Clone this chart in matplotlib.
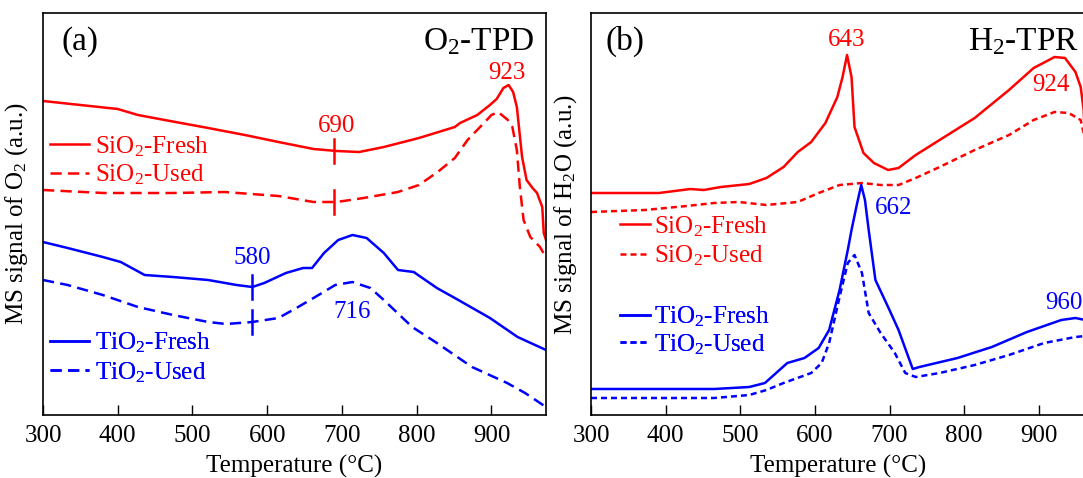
import numpy as np
import matplotlib
matplotlib.use("Agg")
import matplotlib.pyplot as plt

plt.rcParams['font.family'] = ['Liberation Serif', 'DejaVu Serif']
plt.rcParams['mathtext.default'] = 'regular'

RED = '#ff0000'
BLUE = '#0000ff'

# ---------------- Panel (a): O2-TPD ----------------
a_sio2_fresh_T = [300, 350, 400, 427, 470, 521, 570, 615, 662, 693, 723, 756, 803, 851, 858, 881,
                  898, 907, 916, 923, 929, 934, 941, 947, 955, 961, 968, 970, 973]
a_sio2_fresh_y = [314, 310, 306, 300, 294, 287, 280, 273, 266, 264, 263, 268, 277, 288, 292, 300,
                  310, 316, 327, 330, 323, 308, 258, 235, 227, 222, 208, 182, 175]

a_sio2_used_T = [300, 381, 474, 543, 615, 662, 693, 729, 775, 803, 828, 851, 868, 890, 900, 909,
                 922, 928, 934, 938, 943, 952, 965, 971]
a_sio2_used_y = [225, 222, 222, 223, 219, 213, 213, 217, 223, 230, 243, 257, 275, 292, 300, 303,
                 295, 288, 265, 228, 195, 178, 168, 160]

a_tio2_fresh_T = [300, 333, 380, 404, 436, 474, 521, 559, 580, 596, 625, 648, 660, 676, 695, 714,
                  733, 756, 775, 796, 827, 851, 898, 935, 973]
a_tio2_fresh_y = [173, 167, 158, 153, 140, 138, 135, 130, 128, 132, 142, 147, 147, 162, 175, 180,
                  177, 162, 145, 143, 127, 117, 97, 78, 65]

a_tio2_used_T = [300, 333, 380, 427, 474, 521, 545, 580, 615, 639, 662, 691, 714, 738, 756, 794,
                 827, 874, 921, 945, 973]
a_tio2_used_y = [135, 130, 120, 108, 100, 93, 91, 93, 97, 107, 117, 130, 133, 127, 115, 88,
                 72, 48, 32, 22, 8]

# ---------------- Panel (b): H2-TPR ----------------
b_sio2_fresh_T = [300, 391, 433, 451, 474, 512, 535, 558, 577, 595, 614, 630, 637, 643, 649, 653,
                  665, 679, 698, 712, 735, 767, 814, 860, 893, 921, 935, 949, 956, 960, 962]
b_sio2_fresh_y = [222, 222, 226, 225, 228, 231, 237, 248, 263, 273, 292, 318, 338, 360, 338, 288,
                  262, 252, 245, 247, 260, 275, 297, 325, 347, 358, 357, 343, 328, 305, 265]

b_sio2_used_T = [300, 372, 428, 465, 498, 535, 577, 605, 633, 663, 688, 712, 735, 767, 814, 860,
                 893, 921, 940, 956, 960, 962]
b_sio2_used_y = [203, 205, 209, 212, 213, 210, 213, 222, 230, 232, 230, 230, 237, 248, 265, 280,
                 295, 303, 302, 295, 282, 262]

b_tio2_fresh_T = [300, 465, 512, 533, 542, 563, 586, 605, 619, 633, 644, 649, 656, 662, 667, 672,
                  681, 698, 712, 731, 740, 791, 837, 884, 930, 949, 962]
b_tio2_fresh_y = [26, 26, 28, 32, 38, 52, 57, 67, 85, 125, 165, 185, 210, 230, 215, 185,
                  135, 108, 85, 46, 48, 57, 68, 83, 95, 97, 95]

b_tio2_used_T = [300, 465, 512, 535, 558, 595, 609, 619, 633, 644, 653, 663, 672, 688, 707, 721,
                 735, 767, 814, 860, 907, 949, 962]
b_tio2_used_y = [17, 17, 20, 25, 32, 42, 52, 72, 118, 152, 160, 142, 102, 82, 62, 42,
                 38, 42, 50, 60, 72, 78, 79]

xticks = [300, 400, 500, 600, 700, 800, 900]

FS = 18
TFS = 24
LW = 1.8

fig = plt.figure(figsize=(10.83, 4.78), dpi=100)
W, H = 1083, 478
ax1 = fig.add_axes([43 / W, (H - 415) / H, (546 - 43) / W, (415 - 13) / H])
ax2 = fig.add_axes([591 / W, (H - 415) / H, (1083 - 591) / W + 0.002, (415 - 13) / H])

dash_a = (0, (4.5, 2.5))
dash_b = (0, (2.4, 1.6))

l1, = ax1.plot(a_sio2_fresh_T, a_sio2_fresh_y, color=RED, lw=LW, label=r'SiO$_2$-Fresh')
l2, = ax1.plot(a_sio2_used_T, a_sio2_used_y, color=RED, lw=LW, ls=dash_a, label=r'SiO$_2$-Used')
l3, = ax1.plot(a_tio2_fresh_T, a_tio2_fresh_y, color=BLUE, lw=LW, label=r'TiO$_2$-Fresh')
l4, = ax1.plot(a_tio2_used_T, a_tio2_used_y, color=BLUE, lw=LW, ls=dash_a, label=r'TiO$_2$-Used')

m1, = ax2.plot(b_sio2_fresh_T, b_sio2_fresh_y, color=RED, lw=LW, label=r'SiO$_2$-Fresh')
m2, = ax2.plot(b_sio2_used_T, b_sio2_used_y, color=RED, lw=LW, ls=dash_b, label=r'SiO$_2$-Used')
m3, = ax2.plot(b_tio2_fresh_T, b_tio2_fresh_y, color=BLUE, lw=LW, label=r'TiO$_2$-Fresh')
m4, = ax2.plot(b_tio2_used_T, b_tio2_used_y, color=BLUE, lw=LW, ls=dash_b, label=r'TiO$_2$-Used')

# vertical marker ticks in panel (a)
for T0, (xs, ys), col in [(690, (a_sio2_fresh_T, a_sio2_fresh_y), RED),
                          (690, (a_sio2_used_T, a_sio2_used_y), RED),
                          (580, (a_tio2_fresh_T, a_tio2_fresh_y), BLUE),
                          (580, (a_tio2_used_T, a_tio2_used_y), BLUE)]:
    yc = np.interp(T0, xs, ys)
    ax1.plot([T0, T0], [yc - 12, yc + 12], color=col, lw=LW)

for ax, xmax in [(ax1, 973), (ax2, 962)]:
    ax.set_xlim(300, xmax)
    ax.set_ylim(0, 402)
    ax.set_xticks(xticks)
    ax.tick_params(axis='x', direction='in', length=7, width=1, labelsize=FS, pad=7)
    ax.tick_params(axis='y', left=False, labelleft=False)
    ax.set_xlabel('Temperature (°C)', fontsize=FS, labelpad=6)
    for s in ax.spines.values():
        s.set_linewidth(1.2)

ax2.spines['right'].set_visible(False)

ax1.set_ylabel(r'MS signal of O$_2$ (a.u.)', fontsize=FS)
ax1.yaxis.set_label_coords(-0.026, 0.5)
ax2.set_ylabel(r'MS signal of H$_2$O (a.u.)', fontsize=FS)
ax2.yaxis.set_label_coords(-0.024, 0.5)

# panel titles
ax1.text(0.074, 0.908, '(a)', transform=ax1.transAxes, fontsize=TFS, ha='center', va='baseline')
ax1.text(0.978, 0.908, r'O$_2$-TPD', transform=ax1.transAxes, fontsize=TFS, ha='right', va='baseline')
ax2.text(0.069, 0.908, '(b)', transform=ax2.transAxes, fontsize=TFS, ha='center', va='baseline')
ax2.text(0.987, 0.908, r'H$_2$-TPR', transform=ax2.transAxes, fontsize=TFS, ha='right', va='baseline')

# peak labels
ax1.text(693, 289, '690', color=RED, fontsize=FS, ha='center', va='center')
ax1.text(921, 342, '923', color=RED, fontsize=FS, ha='center', va='center')
ax1.text(580, 157, '580', color=BLUE, fontsize=FS, ha='center', va='center')
ax1.text(714, 103, '716', color=BLUE, fontsize=FS, ha='center', va='center')
ax2.text(643, 375, '643', color=RED, fontsize=FS, ha='center', va='center')
ax2.text(916, 330, '924', color=RED, fontsize=FS, ha='center', va='center')
ax2.text(705, 207, '662', color=BLUE, fontsize=FS, ha='center', va='center')
ax2.text(934, 112, '960', color=BLUE, fontsize=FS, ha='center', va='center')

def add_legend(ax, handles, color, x, y, hl, htp, ls):
    leg = ax.legend(handles=handles, loc='center left', bbox_to_anchor=(x, y),
                    frameon=False, fontsize=FS, handlelength=hl, handletextpad=htp,
                    labelspacing=ls, borderpad=0, borderaxespad=0)
    for t in leg.get_texts():
        t.set_color(color)
    ax.add_artist(leg)
    return leg

add_legend(ax1, [l1, l2], RED, 0.014, 0.633, 1.55, 0.25, 0.16)
add_legend(ax1, [l3, l4], BLUE, 0.014, 0.143, 1.55, 0.25, 0.2)
add_legend(ax2, [m1, m2], RED, 0.059, 0.432, 1.2, 0.16, 0.2)
add_legend(ax2, [m3, m4], BLUE, 0.059, 0.210, 1.2, 0.16, 0.12)

fig.savefig('out.png', dpi=100)
